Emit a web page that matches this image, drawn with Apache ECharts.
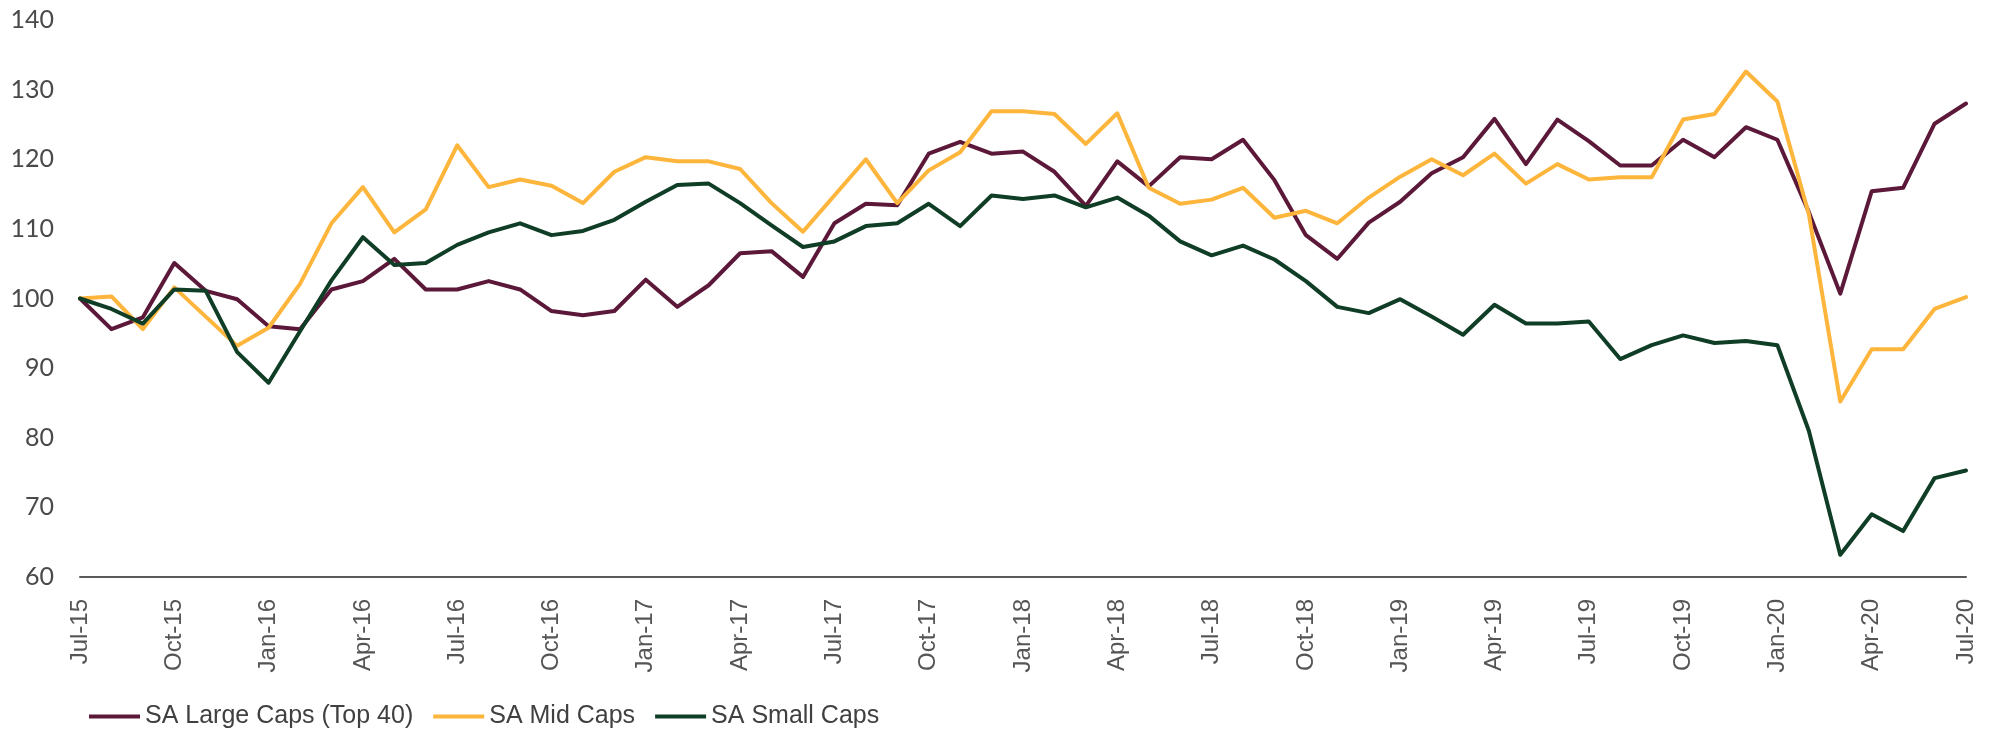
<!DOCTYPE html>
<html lang="en">
<head>
    <meta charset="UTF-8">
    <title>SA Caps</title>
    <style>
        body, html {
            margin: 0;
            padding: 0;
            background: #fff;
        }

        #main {
            width: 2000px;
            height: 736px;
        }
    </style>
</head>
<body>
<div id="main"></div>
<script src="https://cdn.jsdelivr.net/npm/echarts@6/dist/echarts.min.js"></script>
<script>

    // months Jul-15 .. Jul-20
    let months = [
        'Jul-15', 'Aug-15', 'Sep-15', 'Oct-15', 'Nov-15', 'Dec-15',
        'Jan-16', 'Feb-16', 'Mar-16', 'Apr-16', 'May-16', 'Jun-16',
        'Jul-16', 'Aug-16', 'Sep-16', 'Oct-16', 'Nov-16', 'Dec-16',
        'Jan-17', 'Feb-17', 'Mar-17', 'Apr-17', 'May-17', 'Jun-17',
        'Jul-17', 'Aug-17', 'Sep-17', 'Oct-17', 'Nov-17', 'Dec-17',
        'Jan-18', 'Feb-18', 'Mar-18', 'Apr-18', 'May-18', 'Jun-18',
        'Jul-18', 'Aug-18', 'Sep-18', 'Oct-18', 'Nov-18', 'Dec-18',
        'Jan-19', 'Feb-19', 'Mar-19', 'Apr-19', 'May-19', 'Jun-19',
        'Jul-19', 'Aug-19', 'Sep-19', 'Oct-19', 'Nov-19', 'Dec-19',
        'Jan-20', 'Feb-20', 'Mar-20', 'Apr-20', 'May-20', 'Jun-20',
        'Jul-20'
    ];

    let largeCaps = [
        100, 95.6, 97.3, 105.1, 101.1, 99.9, 96.0, 95.6, 101.3, 102.5,
        105.7, 101.3, 101.3, 102.5, 101.3, 98.2, 97.6, 98.2, 102.7, 98.8,
        101.9, 106.5, 106.8, 103.1, 110.8, 113.6, 113.4, 120.8, 122.5, 120.8,
        121.1, 118.2, 113.3, 119.7, 116.1, 120.3, 120.0, 122.8, 117.0, 109.1,
        105.7, 110.9, 113.9, 118.0, 120.3, 125.8, 119.3, 125.7, 122.6, 119.1,
        119.1, 122.8, 120.3, 124.6, 122.8, 112.4, 100.7, 115.4, 115.9, 125.1,
        128.0
    ];

    let midCaps = [
        100, 100.3, 95.6, 101.6, 97.4, 93.2, 95.8, 102.1, 110.8, 116.0,
        109.5, 112.8, 122.0, 116.0, 117.1, 116.2, 113.7, 118.2, 120.3, 119.7,
        119.7, 118.6, 113.7, 109.6, 114.8, 120.0, 113.7, 118.4, 121.0, 126.9,
        126.9, 126.5, 122.2, 126.6, 115.9, 113.6, 114.2, 115.9, 111.6, 112.6,
        110.8, 114.5, 117.5, 120.0, 117.7, 120.8, 116.5, 119.3, 117.1, 117.4,
        117.4, 125.7, 126.5, 132.6, 128.3, 112.1, 85.2, 92.7, 92.7, 98.5,
        100.2
    ];

    let smallCaps = [
        100, 98.5, 96.4, 101.3, 101.1, 92.3, 87.9, 95.3, 102.6, 108.8,
        104.8, 105.1, 107.7, 109.5, 110.8, 109.1, 109.7, 111.3, 113.9, 116.3,
        116.5, 113.7, 110.5, 107.4, 108.2, 110.4, 110.8, 113.6, 110.4, 114.8,
        114.3, 114.8, 113.1, 114.5, 111.9, 108.2, 106.2, 107.6, 105.6, 102.5,
        98.8, 97.9, 99.9, 97.4, 94.8, 99.1, 96.4, 96.4, 96.7, 91.3,
        93.3, 94.7, 93.6, 93.9, 93.3, 81.0, 63.2, 69.0, 66.6, 74.2,
        75.3
    ];

    let seriesNames = ['SA Large Caps (Top 40)', 'SA Mid Caps', 'SA Small Caps'];
    let seriesColors = ['#5c1838', '#fdb53c', '#0f3d26'];

    let myChart = echarts.init(document.getElementById('main'), null, {renderer: 'canvas'});

    function lineSeries(idx, data) {
        return {
            name: seriesNames[idx],
            type: 'line',
            data: data,
            symbol: 'none',
            color: seriesColors[idx],
            lineStyle: {width: 4, color: seriesColors[idx], cap: 'round', join: 'round'}
        };
    }

    let option = {
        animation: false,
        grid: {
            left: 80,
            right: 34,
            top: 20,
            bottom: 159
        },
        legend: {
            left: 84,
            bottom: 2,
            icon: 'rect',
            itemWidth: 51,
            itemHeight: 4,
            itemGap: 20,
            textStyle: {
                color: '#404040',
                fontSize: 25,
                fontFamily: 'Liberation Sans, sans-serif'
            },
            data: seriesNames
        },
        xAxis: {
            type: 'category',
            boundaryGap: false,
            data: months,
            axisLine: {lineStyle: {color: '#5a5a5a', width: 2}},
            axisTick: {show: false},
            axisLabel: {
                interval: 2,
                rotate: 90,
                margin: 22,
                color: '#555',
                fontSize: 24,
                fontFamily: 'Liberation Sans, Arial, sans-serif'
            }
        },
        yAxis: {
            type: 'value',
            min: 60,
            max: 140,
            interval: 10,
            splitLine: {show: false},
            axisLine: {show: false},
            axisTick: {show: false},
            axisLabel: {
                margin: 26,
                color: '#4a4a4a',
                fontSize: 25,
                fontFamily: 'Lato, sans-serif'
            }
        },
        series: [
            lineSeries(0, largeCaps),
            lineSeries(1, midCaps),
            lineSeries(2, smallCaps)
        ]
    };

    myChart.setOption(option);

</script>
</body>
</html>
